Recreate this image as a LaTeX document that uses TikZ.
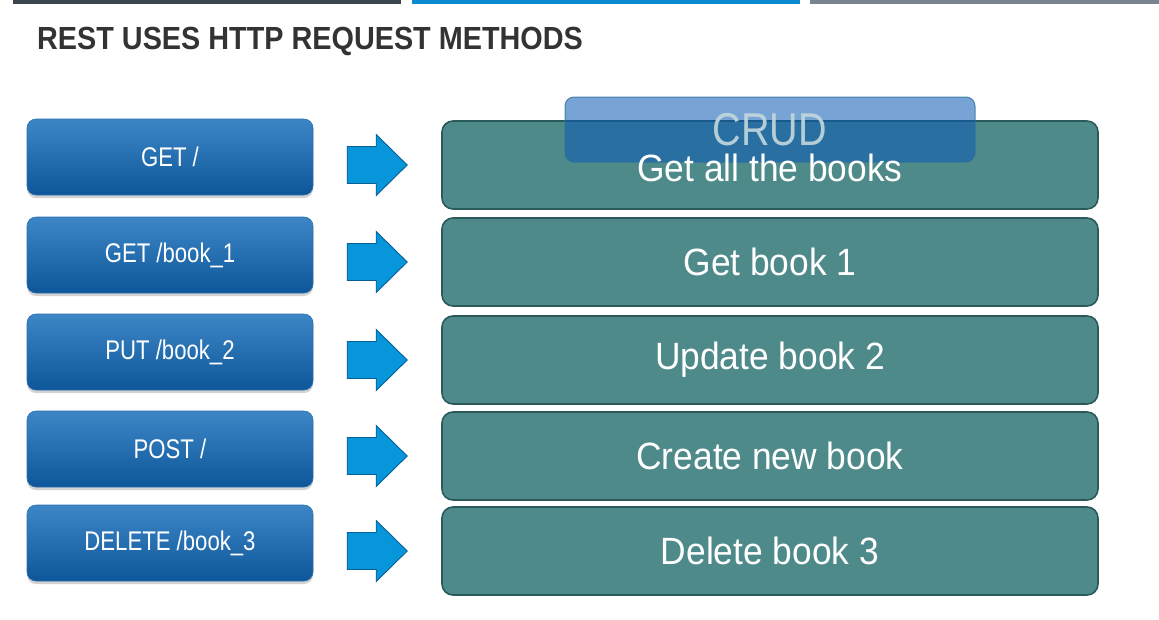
\documentclass[tikz,border=0pt]{standalone}
\usepackage{fontspec}
\setmainfont{Liberation Sans}
\newfontfamily\titlefont[FakeStretch=0.9]{Liberation Sans}
\newfontfamily\narrowfont[FakeStretch=0.82]{Liberation Sans}
\newfontfamily\actionfont[FakeStretch=0.93]{Liberation Sans}
\newfontfamily\crudfont[FakeStretch=0.86]{Liberation Sans}
\usetikzlibrary{shadows,calc}
\definecolor{bartop}{HTML}{3C4450}
\definecolor{barblue}{HTML}{0B8AD0}
\definecolor{bargray}{HTML}{7A8490}
\definecolor{ltop}{HTML}{3D86C6}
\definecolor{lbot}{HTML}{0D5699}
\definecolor{lborder}{HTML}{2C6FAF}
\definecolor{teal}{HTML}{4F8A8B}
\definecolor{tealborder}{HTML}{2B5A5B}
\definecolor{arrfill}{HTML}{0796D9}
\definecolor{arrborder}{HTML}{0A5E96}
\definecolor{crudfill}{HTML}{0A5AB4}
\definecolor{crudborder}{HTML}{2F6F9F}
\definecolor{crudtext}{HTML}{C4D8DC}
\definecolor{titlecol}{HTML}{333333}
\tikzset{
  methodbox/.style={rounded corners=9pt, minimum width=286pt, minimum height=76pt,
    top color=ltop, bottom color=lbot, draw=lborder, line width=0.6pt,
    text=white, font=\narrowfont\fontsize{27}{29}\selectfont,
    drop shadow={shadow xshift=0pt, shadow yshift=-3pt, opacity=0.35}},
  actionbox/.style={rounded corners=11pt, minimum width=656pt, minimum height=88pt,
    fill=teal, draw=tealborder, line width=1.6pt,
    text=white, font=\actionfont\fontsize{38}{40}\selectfont},
  blockarrow/.style={fill=arrfill, draw=arrborder, line width=0.9pt, line join=miter},
  crudbox/.style={rounded corners=9pt, minimum width=410pt, minimum height=65pt,
    fill=crudfill, fill opacity=0.55, draw=crudborder, draw opacity=0.8, line width=1pt},
}
\begin{document}
\begin{tikzpicture}[x=1pt,y=-1pt]
\useasboundingbox (0,0) rectangle (1159,619);
\fill[white] (0,0) rectangle (1159,619);
% top bars
\fill[bartop] (13,0) rectangle (401,4);
\fill[barblue] (412,0) rectangle (800,4);
\fill[bargray] (810,0) rectangle (1159,4);
% title
\node[anchor=base west, inner sep=0pt, text=titlecol, font=\titlefont\bfseries\fontsize{32}{34}\selectfont] (title) at (37,49) {REST USES HTTP REQUEST METHODS};
% left method boxes
\node[methodbox] (m1) at (170,157) {GET /};
\node[methodbox] (m2) at (170,255) {GET /book\_1};
\node[methodbox] (m3) at (170,352) {PUT /book\_2};
\node[methodbox] (m4) at (170,449) {POST /};
\node[methodbox] (m5) at (170,543) {DELETE /book\_3};
% right action boxes
\node[actionbox] (r1) at (770,165) {};
\node[actionbox] (r2) at (770,262) {Get book 1};
\node[actionbox] (r3) at (770,360) {Update book 2};
\node[actionbox] (r4) at (770,456) {Create new book};
\node[actionbox] (r5) at (770,551) {Delete book 3};
% block arrows
\path[blockarrow] ($(r1.west)+(-94,-18.5)$) -- ++(29,0) -- ++(0,-12) -- ($(r1.west)+(-34,0)$) -- ($(r1.west)+(-65,30.5)$) -- ++(0,-12) -- ++(-29,0) -- cycle;
\path[blockarrow] ($(r2.west)+(-94,-18.5)$) -- ++(29,0) -- ++(0,-12) -- ($(r2.west)+(-34,0)$) -- ($(r2.west)+(-65,30.5)$) -- ++(0,-12) -- ++(-29,0) -- cycle;
\path[blockarrow] ($(r3.west)+(-94,-18.5)$) -- ++(29,0) -- ++(0,-12) -- ($(r3.west)+(-34,0)$) -- ($(r3.west)+(-65,30.5)$) -- ++(0,-12) -- ++(-29,0) -- cycle;
\path[blockarrow] ($(r4.west)+(-94,-18.5)$) -- ++(29,0) -- ++(0,-12) -- ($(r4.west)+(-34,0)$) -- ($(r4.west)+(-65,30.5)$) -- ++(0,-12) -- ++(-29,0) -- cycle;
\path[blockarrow] ($(r5.west)+(-94,-18.5)$) -- ++(29,0) -- ++(0,-12) -- ($(r5.west)+(-34,0)$) -- ($(r5.west)+(-65,30.5)$) -- ++(0,-12) -- ++(-29,0) -- cycle;
% CRUD overlay
\node[crudbox] (crud) at (770,129.5) {};
\node[text=crudtext, text opacity=0.9, font=\crudfont\fontsize{46}{48}\selectfont, inner sep=0pt] (crudlabel) at (770,130) {CRUD};
\node[text=white, font=\actionfont\fontsize{38}{40}\selectfont, inner sep=0pt] (r1label) at (770,168) {Get all the books};
\end{tikzpicture}
\end{document}
